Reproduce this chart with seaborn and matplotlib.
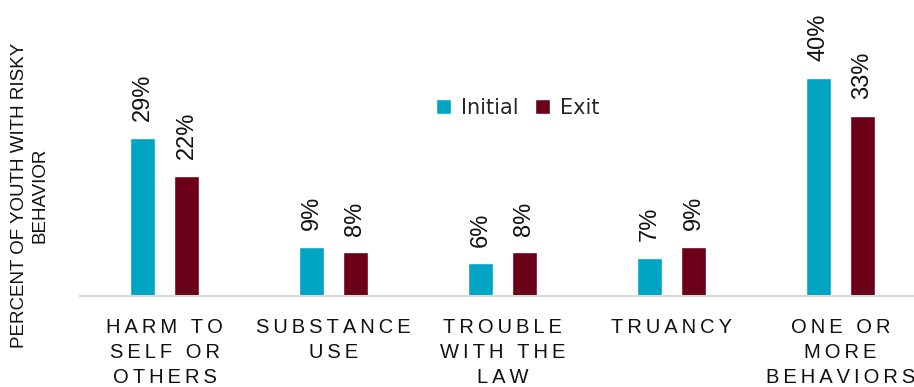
import matplotlib
matplotlib.use("Agg")
import matplotlib.pyplot as plt
import seaborn as sns
import pandas as pd

categories = ["HARM TO\nSELF OR\nOTHERS", "SUBSTANCE\nUSE", "TROUBLE\nWITH THE\nLAW", "TRUANCY", "ONE OR\nMORE\nBEHAVIORS"]
initial = [29, 9, 6, 7, 40]
exit_vals = [22, 8, 8, 9, 33]
series = ["Initial", "Exit"]
colors = ["#00A5C4", "#6D0019"]

rows = []
for c, a, b in zip(categories, initial, exit_vals):
    rows.append({"cat": c, "series": "Initial", "val": a})
    rows.append({"cat": c, "series": "Exit", "val": b})
df = pd.DataFrame(rows)

sns.set_theme(style="white")
plt.rcParams["font.family"] = ["Liberation Sans", "DejaVu Sans"]

W, H = 914, 387
fig = plt.figure(figsize=(W / 100, H / 100), dpi=100)
ax = fig.add_axes([80 / W, 91 / H, 845 / W, 296 / H])

sns.barplot(data=df, x="cat", y="val", hue="series", hue_order=series,
            palette=colors, saturation=1, width=0.52, gap=0.45, ax=ax, legend=True)

ax.set_ylim(0, 54.3)
ax.set_xlim(-0.5, 4.5)
for cont in ax.containers:
    ax.bar_label(cont, labels=[f"{v:.0f}%" for v in cont.datavalues],
                 rotation=90, padding=12, fontsize=17, color="#111111")

for s in ["top", "right", "left"]:
    ax.spines[s].set_visible(False)
ax.spines["bottom"].set_color("#d9d9d9")
ax.spines["bottom"].set_linewidth(1.5)
ax.set_yticks([])


def spaced(s):
    return "\n".join("\u2009".join(list(line)) for line in s.split("\n"))


ax.set_xticks(range(len(categories)))
ax.set_xticklabels([spaced(c) for c in categories], fontsize=14.5,
                   linespacing=1.4, multialignment="center", color="#111111")
ax.tick_params(axis="x", length=0, pad=16)
ax.set_xlabel("")
ax.set_ylabel("")

fig.text(30 / W, 1 - 195 / H, "PERCENT OF YOUTH WITH RISKY\nBEHAVIOR",
         rotation=90, ha="center", va="center", fontsize=13.5,
         multialignment="center", color="#111111", linespacing=1.25)

handles, labels = ax.get_legend_handles_labels()
ax.legend(handles, labels, loc="center", bbox_to_anchor=(518 / W, 1 - 108 / H),
          bbox_transform=fig.transFigure, ncol=2, frameon=False,
          handlelength=0.7, handleheight=0.7, handletextpad=0.5,
          columnspacing=0.8, prop={"family": "DejaVu Sans", "size": 15})

fig.savefig("out.png", dpi=100)
